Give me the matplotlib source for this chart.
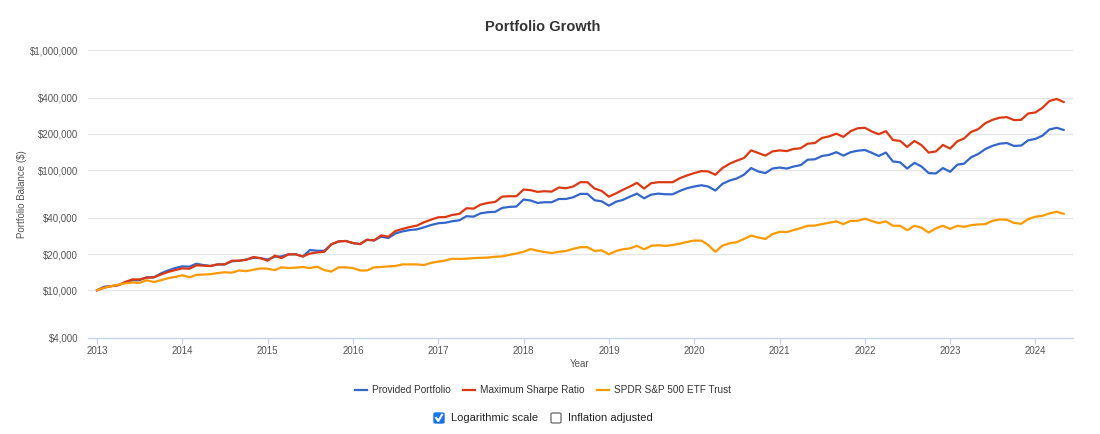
import pandas as pd
import matplotlib.pyplot as plt
from matplotlib.patches import FancyBboxPatch
from matplotlib.lines import Line2D
from matplotlib.ticker import NullLocator

plt.rcParams['font.family'] = ['Liberation Sans', 'DejaVu Sans']

# monthly balances, Jan 2013 .. May 2024
months = pd.date_range('2013-01-01', periods=137, freq='MS')

provided = [
    10000, 10700, 10800, 11000, 11600, 12100, 12100, 12800, 12800, 13800, 14600, 15300,
    15800, 15700, 16600, 16200, 15900, 16400, 16400, 17400, 17600, 18000, 18600, 18500,
    18000, 19000, 19100, 19900, 19900, 19100, 21600, 21300, 21300, 24100, 25500, 25700,
    24700, 24200, 26300, 26000, 27900, 27200, 29700, 30900, 31700, 32100, 33400, 34900,
    36100, 36500, 37500, 38200, 41300, 41000, 43700, 44600, 44900, 48400, 49400, 49700,
    56900, 55800, 53300, 54000, 54000, 57500, 57500, 59400, 63400, 63400, 56100, 55000,
    50600, 54600, 56400, 60100, 63700, 58200, 62500, 63700, 62900, 62900, 67100, 70600,
    73000, 74800, 73000, 67600, 76800, 81900, 85100, 91400, 104000, 97500, 94400, 103000,
    105000, 103000, 107000, 110000, 122000, 123000, 131000, 134000, 141000, 132000, 141000, 145000,
    147000, 139000, 131000, 140000, 118000, 116000, 103000, 115000, 107000, 94400, 93800, 104000,
    96800, 111000, 113000, 128000, 136000, 150000, 159000, 166000, 168000, 159000, 160000, 177000,
    182000, 194000, 218000, 225000, 216000,
]

max_sharpe = [
    10000, 10500, 10800, 11000, 11700, 12300, 12300, 12700, 12800, 13500, 14200, 14700,
    15200, 15100, 16100, 16000, 15900, 16400, 16400, 17600, 17600, 17900, 18900, 18500,
    17600, 19400, 18500, 19900, 19900, 19100, 20200, 20600, 20900, 24100, 25500, 25700,
    24700, 24200, 26300, 26000, 28600, 27900, 31100, 32400, 33600, 34500, 36800, 38700,
    40500, 40700, 42300, 43200, 48100, 47800, 51600, 53300, 54300, 60200, 60600, 60600,
    68900, 68000, 65900, 66700, 66200, 71600, 70600, 73000, 79300, 79300, 70200, 67100,
    60100, 64100, 68400, 73000, 78300, 70200, 77800, 79300, 79300, 79300, 85700, 90200,
    94400, 98100, 97500, 91400, 104000, 113000, 119700, 126000, 146000, 139000, 132000, 143000,
    146000, 144000, 150000, 152000, 166000, 168000, 185000, 191000, 201000, 189000, 211000, 223000,
    225000, 209000, 199000, 211000, 178000, 175000, 156000, 175000, 161000, 140000, 143000, 162000,
    151000, 174000, 183000, 208000, 219000, 246000, 262000, 273000, 276000, 261000, 262000, 296000,
    302000, 331000, 376000, 391000, 369000,
]

spy = [
    10000, 10500, 10800, 11100, 11400, 11600, 11500, 12100, 11700, 12100, 12600, 12900,
    13300, 12800, 13400, 13500, 13600, 13900, 14100, 14000, 14600, 14400, 14800, 15200,
    15100, 14700, 15500, 15300, 15400, 15600, 15300, 15700, 14700, 14300, 15500, 15500,
    15300, 14600, 14600, 15500, 15600, 15800, 15900, 16400, 16400, 16400, 16200, 16900,
    17300, 17700, 18300, 18200, 18300, 18500, 18600, 18700, 19000, 19100, 19700, 20200,
    20900, 22000, 21300, 20800, 20400, 20900, 21200, 22100, 22800, 22800, 21200, 21500,
    19900, 21200, 21900, 22300, 23400, 21900, 23400, 23700, 23400, 23800, 24400, 25200,
    25900, 25900, 23800, 20900, 23500, 24600, 25100, 26700, 28500, 27500, 26700, 29300,
    30600, 30500, 31600, 32900, 34400, 34500, 35500, 36400, 37400, 35500, 37800, 37800,
    39400, 37600, 36200, 37400, 34400, 34400, 31600, 34400, 33100, 30200, 32700, 34400,
    32400, 34400, 33700, 34800, 35300, 35500, 37800, 38800, 38600, 36400, 35700, 39100,
    40900, 41700, 43600, 45000, 43300,
]

series_names = ['Provided Portfolio', 'Maximum Sharpe Ratio', 'SPDR S&P 500 ETF Trust']
series_colors = ['#3366cc', '#dc3912', '#ff9900']
y_ticks = [4000, 10000, 20000, 40000, 100000, 200000, 400000, 1000000]
years = list(range(2013, 2025))

W, H = 1100, 434
fig = plt.figure(figsize=(W / 100, H / 100), dpi=100)
ax = fig.add_axes([88 / W, 1 - 338 / H, (1073 - 88) / W, (338 - 50) / H])

handles = []
for vals, name, col in zip([provided, max_sharpe, spy], series_names, series_colors):
    ln, = ax.plot(months, vals, color=col, lw=1.6, label=name, solid_joinstyle='round')
    handles.append(ln)

ax.set_yscale('log')
ax.set_ylim(4000, 1000000)
ax.set_yticks(y_ticks)
ax.set_yticklabels([f'${v:,}' for v in y_ticks])
ax.yaxis.set_minor_locator(NullLocator())
ax.tick_params(axis='y', length=0, pad=7, labelsize=7, labelcolor='#555555')

ax.set_xlim(pd.Timestamp('2012-11-23'), pd.Timestamp('2024-06-10'))
ax.set_xticks([pd.Timestamp(f'{y}-01-01') for y in years])
ax.set_xticklabels([str(y) for y in years])
ax.xaxis.set_minor_locator(NullLocator())
ax.tick_params(axis='x', length=4, width=1, color='#ccd6eb', pad=2,
               labelsize=7, labelcolor='#555555')

ax.grid(axis='y', color='#e6e6e6', lw=1)
ax.set_axisbelow(True)
for s in ['top', 'right', 'left']:
    ax.spines[s].set_visible(False)
ax.spines['bottom'].set_color('#ccd6eb')
ax.spines['bottom'].set_linewidth(1)

fig.text(543 / W, 1 - 27 / H, 'Portfolio Growth', ha='center', va='center',
         fontsize=10.5, fontweight='bold', color='#333333')
fig.text(22 / W, 1 - 194 / H, 'Portfolio Balance ($)', rotation=90,
         ha='center', va='center', fontsize=7, color='#555555')
fig.text(580 / W, 1 - 364 / H, 'Year', ha='center', va='center',
         fontsize=7, color='#555555')

fig.legend(handles, series_names, loc='center', bbox_to_anchor=(543 / W, 1 - 390 / H),
           ncol=3, frameon=False, fontsize=7.2, handlelength=1.15, handletextpad=0.5,
           columnspacing=1.3, labelcolor='#333333')

# checkbox controls under the legend
def checkbox(x, checked, label):
    y = 1 - 418 / H
    bw, bh = 10 / W, 10 / H
    fc = '#1a73e8' if checked else 'white'
    ec = '#1a73e8' if checked else '#767676'
    box = FancyBboxPatch((x / W, y - bh / 2), bw, bh, boxstyle='round,pad=0,rounding_size=0.002',
                         transform=fig.transFigure, fc=fc, ec=ec, lw=1)
    fig.patches.append(box)
    if checked:
        fig.lines.append(Line2D([(x + 2.2) / W, (x + 4.2) / W, (x + 8) / W],
                                [y, y - 3 / H, y + 3.2 / H], transform=fig.transFigure,
                                color='white', lw=1.5))
    fig.text((x + 17) / W, y, label, ha='left', va='center', fontsize=8, color='#222222')

checkbox(434, True, 'Logarithmic scale')
checkbox(551, False, 'Inflation adjusted')

fig.savefig('out.png', dpi=100)
